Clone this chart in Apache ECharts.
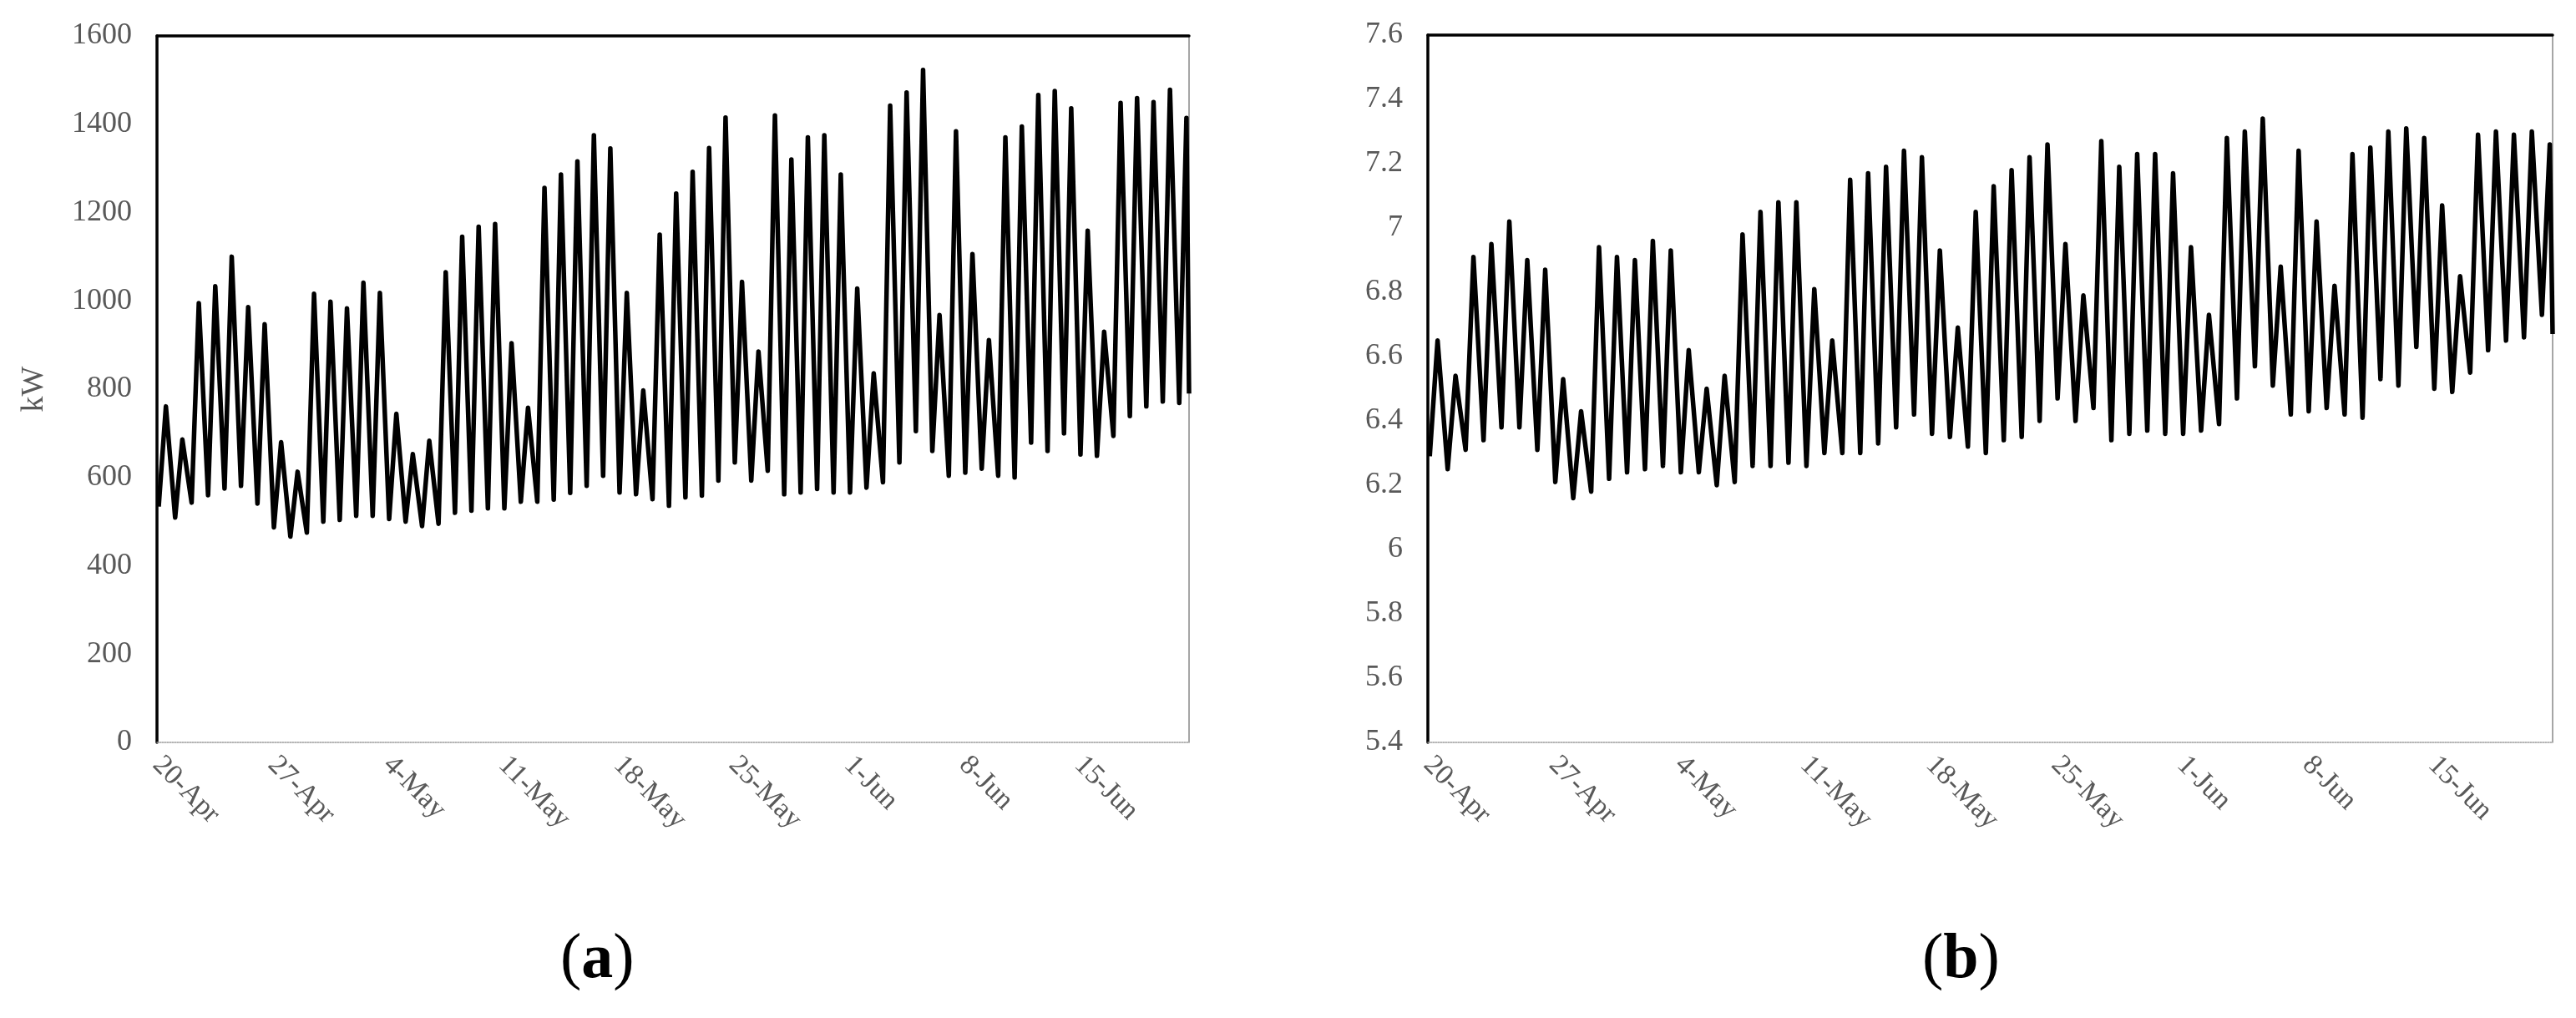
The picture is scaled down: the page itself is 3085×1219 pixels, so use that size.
<!DOCTYPE html>
<html>
<head>
<meta charset="utf-8">
<script src="https://cdn.jsdelivr.net/npm/echarts@6/dist/echarts.min.js"></script>
<style>
html,body{margin:0;padding:0;background:#fff;}
#c{width:3085px;height:1219px;}
</style>
</head>
<body>
<div id="c"></div>
<script>
// Weekly tick labels (one every 7 days, starting 20-Apr)
const dateLabels = ['20-Apr','27-Apr','4-May','11-May','18-May','25-May','1-Jun','8-Jun','15-Jun'];

// Panel (a): daily night minimum and daytime peak, kW
const aMin = [534,509,543,560,575,581,541,487,466,475,500,504,513,513,506,500,490,495,520,525,530,530,545,545,550,565,
  581,604,566,562,551,536,555,559,593,634,593,615,562,566,574,566,566,577,589,634,705,660,604,611,620,604,600,679,660,700,652,649,694,739,761,772,769];
const aPeak = [761,686,995,1033,1100,986,947,680,613,1016,998,983,1041,1018,744,653,683,1065,1145,1168,1174,904,758,1256,1286,1316,
  1375,1345,1018,797,1150,1243,1292,1346,1415,1043,885,1420,1320,1370,1375,1286,1028,836,1442,1472,1523,968,1384,1106,911,1370,1395,1466,1475,1436,1159,930,1448,1459,1450,1478,1414];
const aEnd = 790;

// Panel (b): daily night minimum and daytime peak
const bMin = [6.29,6.25,6.31,6.34,6.38,6.38,6.31,6.21,6.16,6.18,6.22,6.24,6.25,6.26,6.24,6.24,6.20,6.21,6.26,6.26,6.27,6.26,6.30,6.30,6.30,6.33,
  6.38,6.42,6.36,6.35,6.32,6.30,6.34,6.35,6.40,6.47,6.40,6.44,6.34,6.36,6.37,6.36,6.36,6.37,6.39,6.47,6.57,6.51,6.42,6.43,6.44,6.42,6.41,6.53,6.51,6.63,6.50,6.49,6.55,6.62,6.65,6.66,6.73];
const bPeak = [6.65,6.54,6.91,6.95,7.02,6.90,6.87,6.53,6.43,6.94,6.91,6.90,6.96,6.93,6.62,6.50,6.54,6.98,7.05,7.08,7.08,6.81,6.65,7.15,7.17,7.19,
  7.24,7.22,6.93,6.69,7.05,7.13,7.18,7.22,7.26,6.95,6.79,7.27,7.19,7.23,7.23,7.17,6.94,6.73,7.28,7.30,7.34,6.88,7.24,7.02,6.82,7.23,7.25,7.30,7.31,7.28,7.07,6.85,7.29,7.30,7.29,7.30,7.26];
const bEnd = 6.67;

const yTicksA = {min: 0, max: 1600, interval: 200};
const yTicksB = {min: 5.4, max: 7.6, interval: 0.2};
const xSpanDays = 62.7;

const MIN_HOUR = 2.5, PEAK_HOUR = 13;
function build(mins, peaks, endVal) {
  const out = [];
  for (let d = 0; d < peaks.length; d++) {
    out.push([d + MIN_HOUR / 24, mins[d]]);
    out.push([d + PEAK_HOUR / 24, peaks[d]]);
  }
  out.push([xSpanDays, endVal]);
  return out;
}

const FONT = 'Liberation Serif';
const GREY = '#595959';

function xAxes(gi) {
  return [{
    gridIndex: gi, type: 'value', position: 'bottom', min: 0, max: xSpanDays, interval: 7,
    axisLine: {show: true, onZero: false, lineStyle: {color: '#9a9a9a', width: 1.5, type: 'dotted'}},
    axisTick: {show: false}, splitLine: {show: false},
    axisLabel: {
      rotate: -45, margin: 22, fontFamily: FONT, fontSize: 34, color: GREY,
      showMaxLabel: false,
      formatter: v => (Math.abs(v / 7 - Math.round(v / 7)) < 1e-6 ? (dateLabels[Math.round(v / 7)] || '') : '')
    }
  }, {
    gridIndex: gi, type: 'value', position: 'top', min: 0, max: xSpanDays,
    axisLine: {show: true, onZero: false, lineStyle: {color: '#000', width: 3.5}},
    axisTick: {show: false}, axisLabel: {show: false}, splitLine: {show: false}
  }];
}
function yAxes(gi, t, name) {
  return [{
    gridIndex: gi, type: 'value', position: 'left', min: t.min, max: t.max, interval: t.interval,
    name: name, nameLocation: 'middle', nameGap: 128, nameRotate: 90,
    nameTextStyle: {fontFamily: FONT, fontSize: 38, color: GREY},
    axisLine: {show: true, onZero: false, lineStyle: {color: '#000', width: 3.5}},
    axisTick: {show: false}, splitLine: {show: false},
    axisLabel: {margin: 30, fontFamily: FONT, fontSize: 36, color: GREY,
      formatter: v => String(Math.round(v * 1000) / 1000)}
  }, {
    gridIndex: gi, type: 'value', position: 'right', min: t.min, max: t.max,
    axisLine: {show: true, onZero: false, lineStyle: {color: '#888', width: 1.5}},
    axisTick: {show: false}, axisLabel: {show: false}, splitLine: {show: false}
  }];
}

const chart = echarts.init(document.getElementById('c'), null, {renderer: 'canvas'});
chart.setOption({
  backgroundColor: '#fff',
  animation: false,
  grid: [
    {left: 188, top: 43, width: 1236, height: 846},
    {left: 1710, top: 42, width: 1347, height: 847}
  ],
  xAxis: [...xAxes(0), ...xAxes(1)],
  yAxis: [...yAxes(0, yTicksA, 'kW'), ...yAxes(1, yTicksB, '')],
  series: [
    {type: 'line', xAxisIndex: 0, yAxisIndex: 0, data: build(aMin, aPeak, aEnd),
     showSymbol: false, clip: true, lineStyle: {color: '#000', width: 5.5, join: 'round'}},
    {type: 'line', xAxisIndex: 2, yAxisIndex: 2, data: build(bMin, bPeak, bEnd),
     showSymbol: false, clip: true, lineStyle: {color: '#000', width: 5.5, join: 'round'}}
  ],
  graphic: [
    {type: 'text', left: 716 - 45, top: 1112,
     style: {text: '{p|(}{b|a}{p|)}', rich: {
       p: {fontFamily: FONT, fontSize: 76, fill: '#000'},
       b: {fontFamily: FONT, fontSize: 76, fontWeight: 'bold', fill: '#000'}}}},
    {type: 'text', left: 2350 - 48, top: 1112,
     style: {text: '{p|(}{b|b}{p|)}', rich: {
       p: {fontFamily: FONT, fontSize: 76, fill: '#000'},
       b: {fontFamily: FONT, fontSize: 76, fontWeight: 'bold', fill: '#000'}}}}
  ]
});
</script>
</body>
</html>
